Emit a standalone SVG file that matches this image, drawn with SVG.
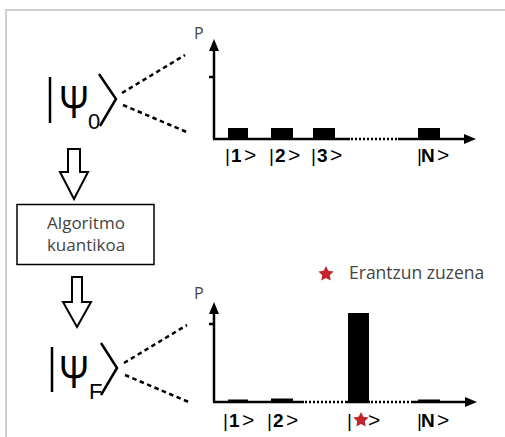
<svg xmlns="http://www.w3.org/2000/svg" width="505" height="437" viewBox="0 0 505 437">
<defs>
<style>
.ax{stroke:#000;stroke-width:2.5;fill:none}
.dot{stroke:#000;stroke-width:2.5;stroke-dasharray:2 2;fill:none}
.dash{stroke:#000;stroke-width:2.5;stroke-dasharray:4.5 3.5;fill:none}
.ket{stroke:#000;stroke-width:2.5;fill:none}
.lbl{font-family:"Liberation Sans",Arial,sans-serif;font-size:19px;fill:#000}
.gt{font-family:"Liberation Sans",Arial,sans-serif;font-size:21px;fill:#000}
.b{font-weight:bold}
.pl{font-family:"Open Sans","Liberation Sans",sans-serif;font-size:16px;fill:#444}
.t{font-family:"Open Sans","Liberation Sans",sans-serif;font-size:17px;fill:#444;text-anchor:middle}
.lg{font-family:"Open Sans","Liberation Sans",sans-serif;font-size:17.5px;fill:#444}
.psi{font-family:"Liberation Sans",Arial,sans-serif;font-size:46px;fill:#000}
.sub{font-family:"Liberation Sans",Arial,sans-serif;font-size:22px;fill:#000}
.harrow{fill:#fff;stroke:#000;stroke-width:2}
</style>
<path id="star" d="M0,-8 L2.35,-3.2 L7.6,-2.5 L3.8,1.2 L4.7,6.5 L0,4 L-4.7,6.5 L-3.8,1.2 L-7.6,-2.5 L-2.35,-3.2 Z" fill="#c0272d"/>
</defs>
<rect width="505" height="437" fill="#fff"/>
<path d="M6,437 V10 H505" stroke="#cfcfcf" stroke-width="2" fill="none"/>

<g id="psi0">
<line class="ket" x1="50" y1="77" x2="50" y2="123"/>
<text class="psi" transform="translate(59,118) scale(0.78,1)">Ψ</text>
<text class="sub" x="88" y="129">0</text>
<polyline class="ket" points="99,74 116,99 100,126"/>
</g>

<g id="chart-top">
<line class="ax" x1="214" y1="50" x2="214" y2="139"/>
<polygon points="214,39 209,51 219,51" fill="#000"/>
<line class="ax" x1="209" y1="77" x2="214" y2="77"/>
<text class="pl" x="194" y="39">P</text>
<rect x="228" y="128" width="20" height="11" fill="#000"/>
<rect x="271" y="128" width="22" height="11" fill="#000"/>
<rect x="313" y="128" width="22" height="11" fill="#000"/>
<rect x="418" y="128" width="22" height="11" fill="#000"/>
<line class="ax" x1="213" y1="139" x2="350" y2="139"/>
<line class="dot" x1="351" y1="139" x2="398" y2="139"/>
<line class="ax" x1="398" y1="139" x2="465" y2="139"/>
<polygon points="476,139 464,134 464,144" fill="#000"/>
<text class="lbl" x="225" y="162">|</text><text class="lbl b" x="231" y="162">1</text><text class="gt" x="244" y="162">&gt;</text>
<text class="lbl" x="269" y="162">|</text><text class="lbl b" x="275" y="162">2</text><text class="gt" x="288" y="162">&gt;</text>
<text class="lbl" x="311" y="162">|</text><text class="lbl b" x="317" y="162">3</text><text class="gt" x="330" y="162">&gt;</text>
<text class="lbl" x="417" y="162">|</text><text class="lbl b" x="421" y="162">N</text><text class="gt" x="437" y="162">&gt;</text>
</g>

<g id="algo">
<rect x="17" y="204.5" width="137" height="60" fill="#fff" stroke="#000" stroke-width="1.5"/>
<text class="t" x="86" y="229">Algoritmo</text>
<text class="t" x="86" y="251">kuantikoa</text>
</g>

<g id="psiF">
<line class="ket" x1="52" y1="347" x2="52" y2="392"/>
<text class="psi" transform="translate(59,388) scale(0.78,1)">Ψ</text>
<text class="sub" x="89" y="399">F</text>
<polyline class="ket" points="101,343 117,368 101,395"/>
</g>

<g id="legend">
<use href="#star" x="326" y="274"/>
<text class="lg" x="349" y="279">Erantzun zuzena</text>
</g>

<g id="chart-bottom">
<line class="ax" x1="214" y1="313" x2="214" y2="402"/>
<polygon points="214,302 209,314 219,314" fill="#000"/>
<line class="ax" x1="209" y1="324" x2="214" y2="324"/>
<text class="pl" x="194" y="299">P</text>
<rect x="228" y="399.5" width="20" height="2.5" fill="#000"/>
<rect x="271" y="398.5" width="22" height="3.5" fill="#000"/>
<rect x="348" y="313" width="21" height="89" fill="#000"/>
<rect x="418" y="399.5" width="22" height="2.5" fill="#000"/>
<line class="ax" x1="213" y1="402" x2="304" y2="402"/>
<line class="dot" x1="305" y1="402" x2="347" y2="402"/>
<line class="ax" x1="347" y1="402" x2="370" y2="402"/>
<line class="dot" x1="371" y1="402" x2="413" y2="402"/>
<line class="ax" x1="413" y1="402" x2="466" y2="402"/>
<polygon points="477,402 465,397 465,407" fill="#000"/>
<text class="lbl" x="223" y="427">|</text><text class="lbl b" x="229" y="427">1</text><text class="gt" x="242" y="427">&gt;</text>
<text class="lbl" x="267" y="427">|</text><text class="lbl b" x="273" y="427">2</text><text class="gt" x="286" y="427">&gt;</text>
<text class="lbl" x="347" y="427">|</text>
<use href="#star" x="361" y="420"/>
<text class="gt" x="368" y="427">&gt;</text>
<text class="lbl" x="417" y="427">|</text><text class="lbl b" x="421" y="427">N</text><text class="gt" x="437" y="427">&gt;</text>
</g>

<g id="connectors">
<line class="dash" x1="122" y1="93" x2="185" y2="55"/>
<line class="dash" x1="123" y1="105" x2="189" y2="133"/>
<line class="dash" x1="124" y1="363" x2="187" y2="325"/>
<line class="dash" x1="125" y1="375" x2="191" y2="403"/>
<polygon class="harrow" points="68,149 80,149 80,172 88,172 74,199 60,172 68,172"/>
<polygon class="harrow" points="72,277 82,277 82,302 91,302 77,327 63,302 72,302"/>
</g>
</svg>
